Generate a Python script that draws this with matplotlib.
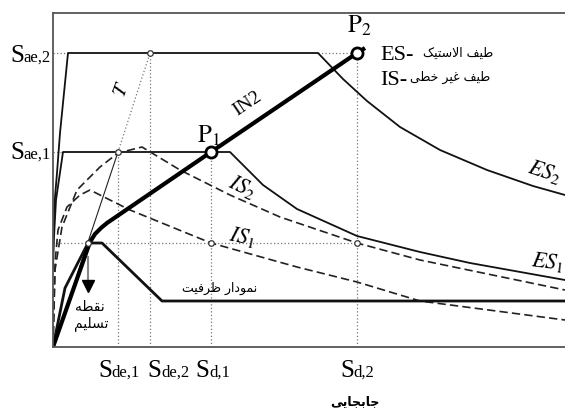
import numpy as np
import matplotlib
matplotlib.use('Agg')
import matplotlib.pyplot as plt

plt.rcParams['mathtext.fontset'] = 'stix'
plt.rcParams['font.family'] = ['Liberation Serif', 'DejaVu Sans']

# spectral displacement (d) / spectral acceleration (a), arbitrary units
sae2, sae1, say = 294, 195, 104
dy = 35
sde1, sde2, sd1, sd2 = 65, 97, 158, 304

# elastic spectra
es2_d = [0, 2, 4, 7, 12, 15, 265, 290, 314, 347, 387, 434, 480, 512]
es2_a = [118, 150, 174, 214, 264, 294, 294, 268, 246, 220, 197, 177, 161, 152]
es1_d = [0, 1, 3, 10, 177, 187, 210, 244, 304, 367, 417, 512]
es1_a = [78, 110, 147, 195, 195, 185, 162, 138, 111, 95, 84, 67]

# inelastic spectra
is2_d = [0, 2, 9, 24, 47, 65, 89, 127, 177, 227, 304, 367, 512]
is2_a = [0, 77, 120, 157, 180, 194, 200, 177, 152, 130, 104, 87, 57]
is1_d = [0, 2, 5, 14, 27, 37, 77, 158, 244, 304, 367, 512]
is1_a = [0, 84, 117, 140, 152, 157, 137, 104, 80, 65, 46, 27]

# capacity curve and IN2 line
cap_d = [0, 12, 35, 49, 109, 512]
cap_a = [0, 59, 104, 104, 46, 46]
in2_d = [0, 37, 42, 48, 54, 158, 304, 312]
in2_a = [0, 105, 113, 119, 124, 195, 294, 299]

bottom_labels = [('S', 'de,1', 45), ('S', 'de,2', 94), ('S', 'd,1', 142), ('S', 'd,2', 287)]

FORMS = {
    'ا': (0xFE8D, 0xFE8E, None, None),
    'ب': (0xFE8F, 0xFE90, 0xFE91, 0xFE92),
    'ت': (0xFE95, 0xFE96, 0xFE97, 0xFE98),
    'ج': (0xFE9D, 0xFE9E, 0xFE9F, 0xFEA0),
    'خ': (0xFEA5, 0xFEA6, 0xFEA7, 0xFEA8),
    'د': (0xFEA9, 0xFEAA, None, None),
    'ر': (0xFEAD, 0xFEAE, None, None),
    'س': (0xFEB1, 0xFEB2, 0xFEB3, 0xFEB4),
    'ط': (0xFEC1, 0xFEC2, 0xFEC3, 0xFEC4),
    'ظ': (0xFEC5, 0xFEC6, 0xFEC7, 0xFEC8),
    'غ': (0xFECD, 0xFECE, 0xFECF, 0xFED0),
    'ف': (0xFED1, 0xFED2, 0xFED3, 0xFED4),
    'ق': (0xFED5, 0xFED6, 0xFED7, 0xFED8),
    'ل': (0xFEDD, 0xFEDE, 0xFEDF, 0xFEE0),
    'م': (0xFEE1, 0xFEE2, 0xFEE3, 0xFEE4),
    'ن': (0xFEE5, 0xFEE6, 0xFEE7, 0xFEE8),
    'ه': (0xFEE9, 0xFEEA, 0xFEEB, 0xFEEC),
    'و': (0xFEED, 0xFEEE, None, None),
    'ی': (0xFEEF, 0xFEF0, 0xFEF3, 0xFEF4),
    'ک': (0xFB8E, 0xFB8F, 0xFB90, 0xFB91),
    '\ufefb': (0xFEFB, 0xFEFC, None, None),
}


def shape(text):
    # joined presentation forms, in visual (left to right) order
    s = text.replace('لا', '\ufefb')
    out = []
    for i, c in enumerate(s):
        if c not in FORMS:
            out.append(c)
            continue
        iso, fin, ini, med = FORMS[c]
        prev = s[i - 1] if i > 0 else ''
        nxt = s[i + 1] if i + 1 < len(s) else ''
        jp = prev in FORMS and FORMS[prev][2] is not None
        jn = ini is not None and nxt in FORMS
        code = med if (jp and jn) else fin if jp else ini if jn else iso
        out.append(chr(code))
    return ''.join(reversed(out))


fig = plt.figure(figsize=(5.65, 4.09), dpi=100)
ax = fig.add_axes([53/565, 62/409, 512/565, 334/409])
ax.set_xlim(0, 512)
ax.set_ylim(0, 334)
ax.set_xticks([])
ax.set_yticks([])
for s in ['left', 'top', 'bottom']:
    ax.spines[s].set_color('#555555')
    ax.spines[s].set_linewidth(1.3)
ax.spines['right'].set_visible(False)

dot = dict(color='#777777', lw=0.9, ls=(0, (1, 1.8)))
ax.plot([0, es2_d[5]], [sae2, sae2], **dot)
ax.plot([es2_d[6], sd2], [sae2, sae2], **dot)
ax.plot([0, es1_d[3]], [sae1, sae1], **dot)
ax.plot([0, sd2], [say, say], **dot)
for x, top in [(sde1, sae1), (sde2, sae2), (sd1, sae1), (sd2, sae2)]:
    ax.plot([x, x], [0, top], **dot)

# period line T
ax.plot([0, sde1], [0, sae1], color='#222222', lw=0.8)
ax.plot([sde1, sde2], [sae1, sae2], **dot)

ax.plot(es2_d, es2_a, color='#111111', lw=1.3)
ax.plot(es1_d, es1_a, color='#111111', lw=1.3)
ax.plot(is2_d, is2_a, color='#222222', lw=1.2, ls=(0, (5, 2.5)))
ax.plot(is1_d, is1_a, color='#222222', lw=1.2, ls=(0, (5, 2.5)))
ax.plot(cap_d, cap_a, color='#111111', lw=2)
ax.plot(in2_d, in2_a, color='#000000', lw=3, solid_capstyle='butt')

small = dict(marker='o', ms=4, mfc='white', mec='#333333', mew=0.9, ls='none', zorder=5)
ax.plot([sde2, sde1, dy, sd1, sd2], [sae2, sae1, say, say, say], **small)
ax.plot([sd1, sd2], [sae1, sae2], marker='o', ms=8, mfc='white', mec='black', mew=2,
        ls='none', zorder=6)

# yield arrow
ax.plot([dy, dy], [90, 67], color='#888888', lw=1.5)
ax.plot([dy], [61], marker='v', ms=9, color='black', ls='none')


def slabel(x, y, big, sub, size=18, subsize=12):
    t = ax.text(x, y, big, fontsize=size, family='Liberation Serif', va='baseline',
                ha='left', clip_on=False)
    ax.annotate(sub, xy=(1, y), xycoords=(t, 'data'), fontsize=subsize,
                family='Liberation Serif', va='baseline', ha='left', annotation_clip=False)


slabel(-43, 285, 'S', 'ae,2')
slabel(-43, 188, 'S', 'ae,1')
for big, sub, x in bottom_labels:
    slabel(x, -30, big, sub)

ax.text(294, 314, r'$\mathrm{P}_2$', fontsize=18, va='baseline', ha='left')
ax.text(144, 204, r'$\mathrm{P}_1$', fontsize=18, va='baseline', ha='left')
ax.text(194, 243, 'IN2', fontsize=14, rotation=34, ha='center', va='center',
        family='Liberation Serif')
ax.text(69, 257, r'$T$', fontsize=15, rotation=70, ha='center', va='center')
ax.text(189, 160, r'$IS_2$', fontsize=16, rotation=-25, ha='center', va='center')
ax.text(189, 110, r'$IS_1$', fontsize=16, rotation=-12, ha='center', va='center')
ax.text(492, 175, r'$ES_2$', fontsize=16, rotation=-18, ha='center', va='center')
ax.text(495, 85, r'$ES_1$', fontsize=16, rotation=-7, ha='center', va='center')

ax.text(327, 287, 'ES-', fontsize=16, va='baseline', ha='left', family='Liberation Serif')
ax.text(327, 262, 'IS-', fontsize=16, va='baseline', ha='left', family='Liberation Serif')
fa = dict(family='DejaVu Sans', fontsize=9, ha='right', va='center')
ax.text(440, 294, shape('طیف الاستیک'), **fa)
ax.text(437, 270, shape('طیف غیر خطی'), **fa)
ax.text(167, 59, shape('نمودار ظرفیت'), family='DejaVu Sans', fontsize=9,
        ha='center', va='center')
ax.text(37, 40, shape('نقطه'), family='DejaVu Sans', fontsize=10, ha='center', va='center')
ax.text(38, 23, shape('تسلیم'), family='DejaVu Sans', fontsize=10, ha='center', va='center')
ax.text(302, -55, shape('جابجایی'), family='DejaVu Sans', fontsize=9, fontweight='bold',
        ha='center', va='center', clip_on=False)

fig.savefig('out.png', dpi=100)
